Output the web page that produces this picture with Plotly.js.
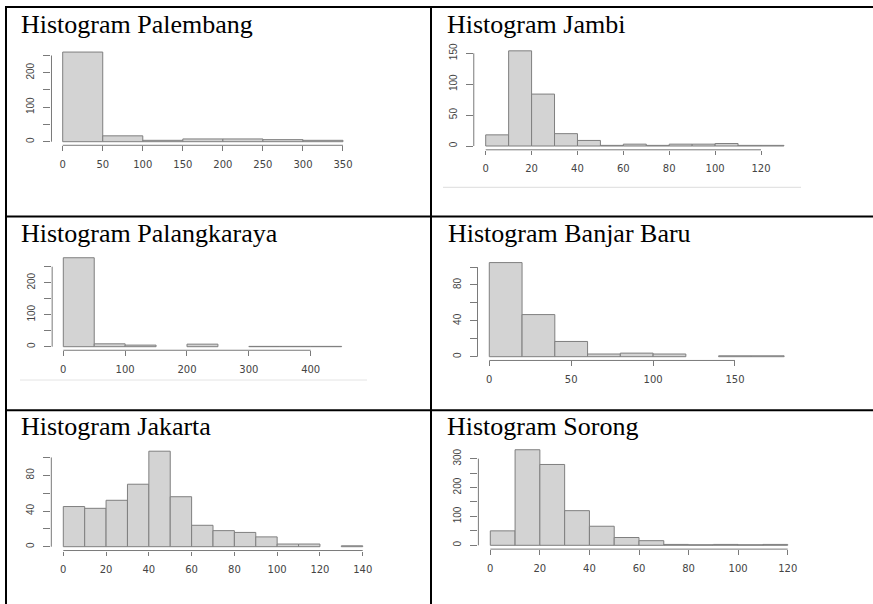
<!DOCTYPE html>
<html>
<head>
<meta charset="utf-8">
<script src="https://cdn.plot.ly/plotly-3.0.1.min.js"></script>
<style>
  html, body { margin: 0; padding: 0; background: #ffffff; }
  #chart { width: 873px; height: 604px; }
</style>
</head>
<body>
<div id="chart"></div>
<script>
// ---------------- DATA ----------------
const palembangBreaks = [0, 50, 100, 150, 200, 250, 300, 350];
const palembangCounts = [260, 17, 4, 8, 8, 6, 4];
const palembangXTicks = [0, 50, 100, 150, 200, 250, 300, 350];
const palembangYTicks = [0, 50, 100, 150, 200, 250];
const palembangYLabels = ["0", "", "100", "", "200", ""];

const jambiBreaks = [0, 10, 20, 30, 40, 50, 60, 70, 80, 90, 100, 110, 120, 130];
const jambiCounts = [18, 154, 84, 20, 9, 1, 3, 1, 3, 3, 4, 1, 1];
const jambiXTicks = [0, 20, 40, 60, 80, 100, 120];
const jambiYTicks = [0, 50, 100, 150];
const jambiYLabels = ["0", "50", "100", "150"];

const palangkarayaBreaks = [0, 50, 100, 150, 200, 250, 300, 350, 400, 450];
const palangkarayaCounts = [278, 9, 5, 0, 8, 0, 1, 1, 1];
const palangkarayaXTicks = [0, 100, 200, 300, 400];
const palangkarayaYTicks = [0, 50, 100, 150, 200, 250];
const palangkarayaYLabels = ["0", "", "100", "", "200", ""];

const banjarBaruBreaks = [0, 20, 40, 60, 80, 100, 120, 140, 160, 180];
const banjarBaruCounts = [105, 47, 17, 3, 4, 3, 0, 1, 1];
const banjarBaruXTicks = [0, 50, 100, 150];
const banjarBaruYTicks = [0, 20, 40, 60, 80, 100];
const banjarBaruYLabels = ["0", "", "40", "", "80", ""];

const jakartaBreaks = [0, 10, 20, 30, 40, 50, 60, 70, 80, 90, 100, 110, 120, 130, 140];
const jakartaCounts = [45, 43, 52, 70, 107, 56, 24, 18, 16, 11, 3, 3, 0, 1];
const jakartaXTicks = [0, 20, 40, 60, 80, 100, 120, 140];
const jakartaYTicks = [0, 20, 40, 60, 80, 100];
const jakartaYLabels = ["0", "", "40", "", "80", ""];

const sorongBreaks = [0, 10, 20, 30, 40, 50, 60, 70, 80, 90, 100, 110, 120];
const sorongCounts = [50, 331, 280, 120, 66, 27, 16, 3, 2, 3, 2, 3];
const sorongXTicks = [0, 20, 40, 60, 80, 100, 120];
const sorongYTicks = [0, 50, 100, 150, 200, 250, 300];
const sorongYLabels = ["0", "", "100", "", "200", "", "300"];

const titles = ["Histogram Palembang", "Histogram Jambi", "Histogram Palangkaraya",
                "Histogram Banjar Baru", "Histogram Jakarta", "Histogram Sorong"];

// ---------------- LAYOUT (pixel placement of each panel) ----------------
const W = 873, H = 604;
const panels = [
  { breaks: palembangBreaks, counts: palembangCounts, xt: palembangXTicks, yt: palembangYTicks, yl: palembangYLabels,
    xa: [0, 62.7, 350, 343], ya: [0, 141.7, 250, 55.5], tx: 19, tb: 33.3 },
  { breaks: jambiBreaks, counts: jambiCounts, xt: jambiXTicks, yt: jambiYTicks, yl: jambiYLabels,
    xa: [0, 485.7, 120, 761], ya: [0, 146, 150, 53.3], tx: 445, tb: 33.3 },
  { breaks: palangkarayaBreaks, counts: palangkarayaCounts, xt: palangkarayaXTicks, yt: palangkarayaYTicks, yl: palangkarayaYLabels,
    xa: [0, 63.3, 400, 310.7], ya: [0, 346.7, 200, 282.7], tx: 19, tb: 242.3 },
  { breaks: banjarBaruBreaks, counts: banjarBaruCounts, xt: banjarBaruXTicks, yt: banjarBaruYTicks, yl: banjarBaruYLabels,
    xa: [0, 489.3, 150, 735], ya: [0, 356.7, 80, 285], tx: 446, tb: 242.3 },
  { breaks: jakartaBreaks, counts: jakartaCounts, xt: jakartaXTicks, yt: jakartaYTicks, yl: jakartaYLabels,
    xa: [0, 63.3, 140, 362.7], ya: [0, 546.7, 80, 475.3], tx: 19, tb: 435.5 },
  { breaks: sorongBreaks, counts: sorongCounts, xt: sorongXTicks, yt: sorongYTicks, yl: sorongYLabels,
    xa: [0, 490.3, 120, 787.7], ya: [0, 545.3, 300, 458.7], tx: 445, tb: 435.5 }
];

function lin(v, a) { return a[1] + (v - a[0]) * (a[3] - a[1]) / (a[2] - a[0]); }

const AX_COLOR = '#7a7a7a';
const LABEL_COLOR = '#444444';
const traces = [];
const layout = {
  width: W, height: H,
  margin: { l: 0, r: 0, t: 0, b: 0 },
  paper_bgcolor: '#ffffff', plot_bgcolor: 'rgba(0,0,0,0)',
  showlegend: false,
  shapes: [], annotations: [],
  bargap: 0
};

panels.forEach((p, i) => {
  const n = i + 1;
  const xs = n === 1 ? 'x' : 'x' + n;
  const ys = n === 1 ? 'y' : 'y' + n;
  const xk = n === 1 ? 'xaxis' : 'xaxis' + n;
  const yk = n === 1 ? 'yaxis' : 'yaxis' + n;
  const b0 = p.breaks[0], bN = p.breaks[p.breaks.length - 1];
  const span = bN - b0;
  const ymax = Math.max(...p.counts);
  const xr = [b0 - 0.04 * span, bN + 0.04 * span];
  const yr = [-0.04 * ymax, 1.04 * ymax];

  const centers = [], widths = [], heights = [];
  for (let k = 0; k < p.counts.length; k++) {
    centers.push((p.breaks[k] + p.breaks[k + 1]) / 2);
    widths.push(p.breaks[k + 1] - p.breaks[k]);
    heights.push(p.counts[k] === 0 ? null : p.counts[k]); // empty bins draw nothing, as in R
  }
  traces.push({
    type: 'bar', x: centers, y: heights, width: widths,
    xaxis: xs, yaxis: ys,
    marker: { color: '#d3d3d3', line: { color: '#7f7f7f', width: 1 } },
    hoverinfo: 'skip'
  });

  layout[xk] = {
    domain: [lin(xr[0], p.xa) / W, lin(xr[1], p.xa) / W],
    range: xr, anchor: ys,
    showgrid: false, zeroline: false, showline: false,
    ticks: 'outside', ticklen: 4.5, tickwidth: 1, tickcolor: AX_COLOR,
    tickmode: 'array', tickvals: p.xt, ticktext: p.xt.map(String),
    tickfont: { family: 'DejaVu Sans, Arial, sans-serif', size: 10, color: LABEL_COLOR },
    ticklabelstandoff: 5,
    fixedrange: true
  };
  layout[yk] = {
    domain: [1 - lin(yr[0], p.ya) / H, 1 - lin(yr[1], p.ya) / H],
    range: yr, anchor: xs,
    showgrid: false, zeroline: false, showline: false,
    ticks: 'outside', ticklen: 7, tickwidth: 1, tickcolor: AX_COLOR,
    tickmode: 'array', tickvals: p.yt, ticktext: p.yl,
    tickangle: -90,
    tickfont: { family: 'Liberation Sans, Arial, sans-serif', size: 10, color: LABEL_COLOR },
    ticklabelstandoff: 5,
    fixedrange: true
  };

  // R-style axis lines spanning first..last tick
  layout.shapes.push({ type: 'line', xref: xs, yref: ys + ' domain',
    x0: p.xt[0], x1: p.xt[p.xt.length - 1], y0: 0, y1: 0,
    line: { color: AX_COLOR, width: 1 } });
  layout.shapes.push({ type: 'line', xref: xs + ' domain', yref: ys,
    x0: 0, x1: 0, y0: p.yt[0], y1: p.yt[p.yt.length - 1],
    line: { color: AX_COLOR, width: 1 } });

  layout.annotations.push({
    text: titles[i], xref: 'paper', yref: 'paper',
    x: p.tx / W, y: 1 - (p.tb - 8.8) / H,
    xanchor: 'left', yanchor: 'middle', showarrow: false,
    font: { family: 'Times New Roman, Liberation Serif, serif', size: 26, color: '#000000' }
  });
});

// Table borders
function hline(y, x0, x1, color, w) {
  layout.shapes.push({ type: 'line', xref: 'paper', yref: 'paper',
    x0: x0 / W, x1: x1 / W, y0: 1 - y / H, y1: 1 - y / H, line: { color: color, width: w } });
}
function vline(x, y0, y1, color, w) {
  layout.shapes.push({ type: 'line', xref: 'paper', yref: 'paper',
    x0: x / W, x1: x / W, y0: 1 - y0 / H, y1: 1 - y1 / H, line: { color: color, width: w } });
}
hline(7, 5, 873, '#000000', 2);
hline(216.5, 5, 873, '#000000', 2);
hline(410.3, 5, 873, '#000000', 2);
vline(6, 6, 604, '#000000', 2);
vline(431, 6, 604, '#000000', 2);
// light separator lines belonging to the embedded images
hline(187.3, 443, 801, '#dcdcdc', 1);
hline(380, 20, 367, '#e4e4e4', 1);

Plotly.newPlot('chart', traces, layout, { displayModeBar: false, staticPlot: true });
</script>
</body>
</html>
